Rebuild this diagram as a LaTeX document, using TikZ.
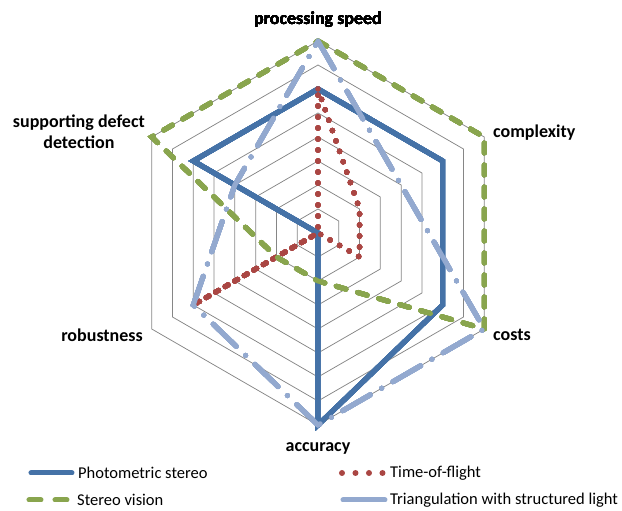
\documentclass[tikz,border=0pt]{standalone}
\usepackage{fontspec}
\setmainfont{Carlito}
\usetikzlibrary{calc}
\definecolor{gitter}{HTML}{868686}
\definecolor{photoblau}{HTML}{4572A7}
\definecolor{tofrot}{HTML}{AA4643}
\definecolor{stereogruen}{HTML}{89A54E}
\definecolor{triblau}{HTML}{93A9CF}
\newcommand{\achse}{\fontsize{18}{21}\selectfont\bfseries}
\newcommand{\legende}{\fontsize{16.5}{19}\selectfont}
\tikzset{gitterlinie/.style={gitter,line width=0.75pt},
  reihe/.style={line width=5pt},
  photo/.style={reihe,photoblau},
  tof/.style={reihe,tofrot,line width=5.5pt,line cap=round,dash pattern=on 0pt off 11pt},
  stereo/.style={reihe,stereogruen,line cap=round,dash pattern=on 10pt off 12pt},
  triang/.style={reihe,triblau,line cap=round,dash pattern=on 32pt off 13pt on 0pt off 13pt},
  achslabel/.style={inner sep=0,font=\achse,text=black},
  legtext/.style={inner sep=0,anchor=west,font=\legende,text=black}}
\newcommand{\netz}[7][]{\draw[#1] (90:#2*24) -- (30:#3*24) -- (-30:#4*24)
  -- (-90:#5*24) -- (210:#6*24) -- (150:#7*24) -- cycle;}

\begin{document}
\begin{tikzpicture}[x=1pt,y=1pt]
\useasboundingbox (-318,-278) rectangle (304,233);
\foreach \k in {1,...,8}
  \netz[gitterlinie]{\k}{\k}{\k}{\k}{\k}{\k}
\netz[photo]{6}{6}{6}{8}{0}{6}
\netz[tof]{6}{2}{2}{0}{6}{0}
\netz[stereo]{8}{8}{8}{2}{2}{8}
\netz[triang]{8}{4}{8}{8}{6}{4}
\node[achslabel] (speed) at (0,213) {processing speed};
\node[achslabel,anchor=west] (complex) at (175,100) {complexity};
\node[achslabel,anchor=west] (kosten) at (175,-102) {costs};
\node[achslabel] (genau) at (0,-215) {accuracy};
\node[achslabel,anchor=east] (robust) at (-175,-102) {robustness};
\node[achslabel,anchor=east,align=center] (defekt) at (-173,101) {supporting defect\\detection};
\node[legtext] (lgphoto) at (-240,-240) {Photometric stereo};
\node[legtext] (lgtof) at (72,-240) {Time-of-flight};
\node[legtext] (lgstereo) at (-241,-267) {Stereo vision};
\node[legtext] (lgtri) at (72,-267) {Triangulation with structured light};
\draw[photo,line cap=round] ($(lgphoto.west)+(-47,0)$) -- ($(lgphoto.west)+(-6,0)$);
\draw[tof,line width=6pt,dash pattern=on 0pt off 13.5pt] ($(lgtof.west)+(-48,0)$) -- ($(lgtof.west)+(-7,0)$);
\draw[stereo,dash pattern=on 12pt off 14pt] ($(lgstereo.west)+(-48,0)$) -- ($(lgstereo.west)+(-10,0)$);
\draw[reihe,triblau,line cap=round] ($(lgtri.west)+(-47,0)$) -- ($(lgtri.west)+(-5,0)$);
\end{tikzpicture}
\end{document}
